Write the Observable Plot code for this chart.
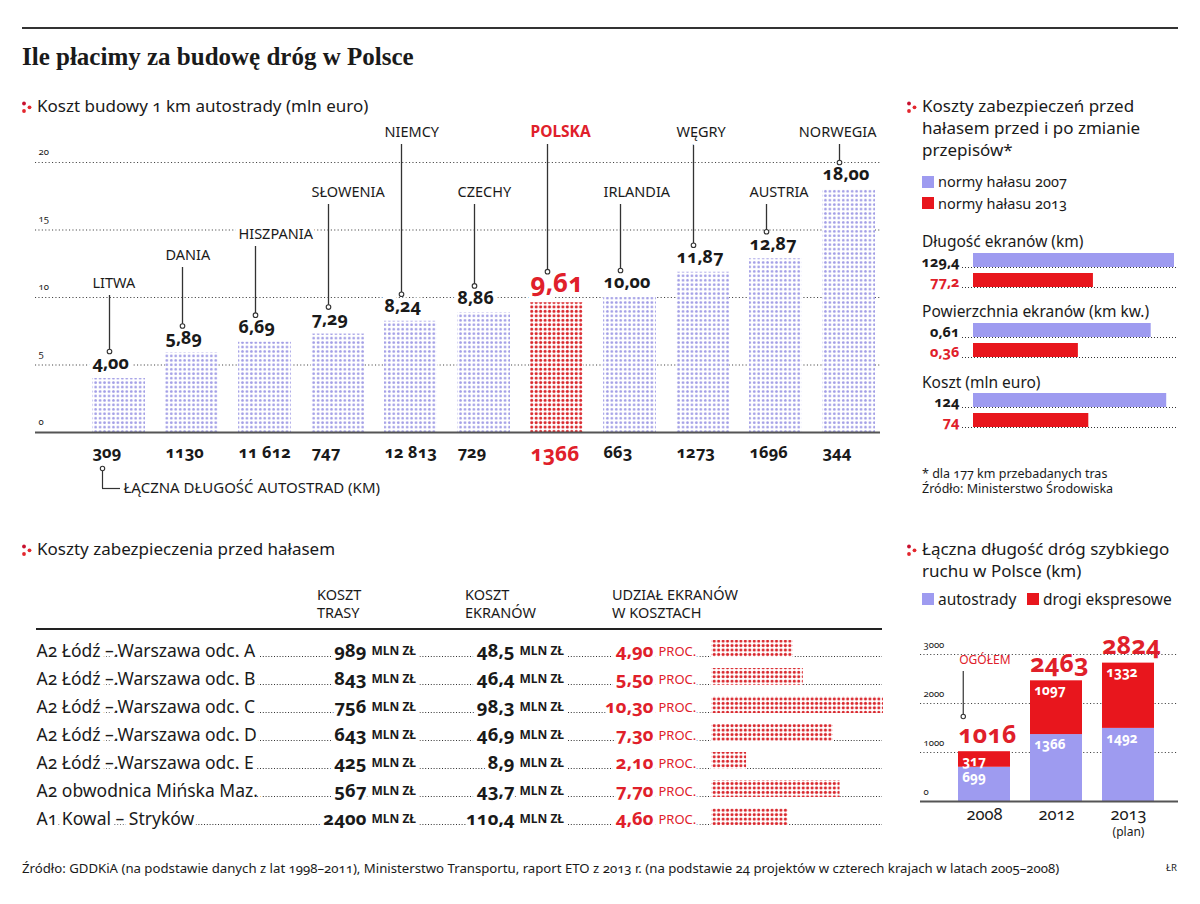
<!DOCTYPE html>
<html><head><meta charset="utf-8">
<script src="https://cdn.jsdelivr.net/npm/d3@7"></script>
<script src="https://cdn.jsdelivr.net/npm/@observablehq/plot@0.6"></script>
<style>
html,body{margin:0;padding:0;background:#fff;}
#page{position:relative;width:1200px;height:904px;overflow:hidden;font-family:"Noto Sans","Open Sans",sans-serif;color:#1a1a1a;font-variant-numeric:oldstyle-nums;}
#page svg text{font-variant-numeric:oldstyle-nums;}
</style></head>
<body><div id="page"></div>
<script>
// ---------------- DATA ----------------
const countries = ["LITWA","DANIA","HISZPANIA","SŁOWENIA","NIEMCY","CZECHY","POLSKA","IRLANDIA","WĘGRY","AUSTRIA","NORWEGIA"];
const costPerKm = [4.00,5.89,6.69,7.29,8.24,8.86,9.61,10.00,11.87,12.87,18.00];
const motorwayLength = [309,1130,11612,747,12813,729,1366,663,1273,1696,344];
const costTicks = [0,5,10,15,20];

const noiseGroups = ["Długość ekranów (km)","Powierzchnia ekranów (km kw.)","Koszt (mln euro)"];
const noiseNorms = ["normy hałasu 2007","normy hałasu 2013"];
const noise2007 = [129.4,0.61,124];
const noise2013 = [77.2,0.36,74];

const sections = ["A2 Łódź –.Warszawa odc. A","A2 Łódź –.Warszawa odc. B","A2 Łódź –.Warszawa odc. C","A2 Łódź –.Warszawa odc. D","A2 Łódź –.Warszawa odc. E","A2 obwodnica Mińska Maz.","A1 Kowal – Stryków"];
const routeCost = [989,843,756,643,425,567,2400];
const screenCost = [48.5,46.4,98.3,46.9,8.9,43.7,110.4];
const screenShare = [4.90,5.50,10.30,7.30,2.10,7.70,4.60];

const years = ["2008","2012","2013"];
const roadTypes = ["autostrady","drogi ekspresowe"];
const motorways = [699,1366,1492];
const expressways = [317,1097,1332];
const totals = [1016,2463,2824];
const roadTicks = [0,1000,2000,3000];

// ---------------- STYLE / LAYOUT ----------------
const LAV = "#9e9bf0", RED = "#e8161d", TXTRED = "#e0202a", INK = "#1a1a1a";
const FONT = "'Noto Sans','Open Sans',sans-serif";
const page = document.getElementById("page");

page.insertAdjacentHTML("beforeend", `<svg width="0" height="0" style="position:absolute;left:0;top:0"><defs>
<pattern id="dotBlue" patternUnits="userSpaceOnUse" width="4.45" height="4.45"><rect width="4.45" height="4.45" fill="#fff"/><circle cx="2.2" cy="2.2" r="1.35" fill="#a29ee6"/></pattern>
<pattern id="dotRed" patternUnits="userSpaceOnUse" width="4.45" height="4.45"><rect width="4.45" height="4.45" fill="#fff"/><circle cx="2.2" cy="2.2" r="1.55" fill="#d9262c"/></pattern>
</defs></svg>`);

function place(el, left, top){ el.style.position="absolute"; el.style.left=left+"px"; el.style.top=top+"px"; page.appendChild(el); return el; }
function label(txt, x, cy, o={}){
  const d=document.createElement("div");
  const size=o.size||16, lh=o.lh||Math.round(size*1.3);
  d.textContent=txt;
  Object.assign(d.style,{position:"absolute",left:x+"px",top:(cy-lh/2)+"px",fontSize:size+"px",lineHeight:lh+"px",whiteSpace:"pre",
    fontWeight:o.weight||400,color:o.color||INK,fontFamily:o.family||FONT,letterSpacing:o.ls||"normal"});
  if(o.transform){d.style.transform=o.transform;d.style.transformOrigin="left center";}
  page.appendChild(d); return d;
}
function icon(x,y){ page.insertAdjacentHTML("beforeend",`<svg style="position:absolute;left:${x}px;top:${y}px" width="12" height="14"><circle cx="3" cy="2.5" r="1.9" fill="#c8102e"/><circle cx="3" cy="10" r="1.9" fill="#e3262d"/><circle cx="8.5" cy="6.3" r="1.9" fill="#e3262d"/></svg>`); }
function section(txt,x,cy){ icon(x-16,cy-5); label(txt,x,cy,{size:17,lh:22}); }
function square(x,y,c){ const d=document.createElement("div"); Object.assign(d.style,{position:"absolute",left:x+"px",top:y+"px",width:"12px",height:"12px",background:c}); page.appendChild(d); }
const plotStyle = {fontFamily:FONT, background:"none", overflow:"visible", color:INK};

const fmt2 = v => v.toFixed(2).replace(".",",");
const fmtLen = v => v>=10000 ? String(v).replace(/\B(?=(\d{3})+(?!\d))/g," ") : String(v);
const fmtDec = v => String(v).replace(".",",");

// ---------------- HEADER ----------------
{ const r=document.createElement("div"); Object.assign(r.style,{position:"absolute",left:"22px",top:"27px",width:"1156px",height:"1.5px",background:"#333"}); page.appendChild(r); }
label("Ile płacimy za budowę dróg w Polsce",22,57,{size:25,lh:30,weight:700,family:"'Liberation Serif','DejaVu Serif',serif"});

// ---------------- MAIN CHART ----------------
section("Koszt budowy 1 km autostrady (mln euro)",37,106);
const mainTop = 100, unitPx = 13.5, baseY = 432;              // y scale: 0 -> 432, 20 -> 162 (page px)
const pv = py => (baseY - py)/unitPx;                            // page px -> value units
const labelTierPx = [283,255,234,192,132,192,132,192,132,192,132]; // country-name label rows (layout)
const mainRows = countries.map((c,i)=>({country:c,cost:costPerKm[i],length:motorwayLength[i],tier:labelTierPx[i]}));
const isPL = d => d.country==="POLSKA";
const others = mainRows.filter(d=>!isPL(d)), pl = mainRows.filter(isPL);
const halo = {stroke:"white",strokeWidth:9,paintOrder:"stroke"};
const hb = -26.5; // half bar width in px: left edge of band from center

const mainPlot = Plot.plot({
  width:900, height:400, marginLeft:35, marginRight:20, marginTop:0, marginBottom:0,
  x:{type:"band",domain:countries,range:[68.5,897.5],padding:0.279,axis:null},
  y:{domain:[0,20],range:[baseY-mainTop,baseY-mainTop-20*unitPx],axis:null},
  style:plotStyle,
  marks:[
    Plot.ruleY(costTicks.filter(d=>d>0),{stroke:"#444",strokeWidth:1.1,strokeDasharray:"1.1,2.3"}),
    Plot.text(costTicks,{y:d=>d,text:d=>String(d),frameAnchor:"left",textAnchor:"start",dx:3,dy:-11,fontSize:9.5,fill:"#222"}),
    Plot.barY(others,{x:"country",y:"cost",fill:"url(#dotBlue)"}),
    Plot.barY(pl,{x:"country",y:"cost",fill:"url(#dotRed)"}),
    Plot.ruleY([0],{stroke:"#555",strokeWidth:2}),
    Plot.text(others,{x:"country",y:d=>d.cost+1.1,text:d=>fmt2(d.cost),dx:hb,textAnchor:"start",fontWeight:"bold",fontSize:18,fill:INK,...halo}),
    Plot.text(pl,{x:"country",y:d=>d.cost+1.45,text:d=>fmt2(d.cost),dx:hb,textAnchor:"start",fontWeight:"bold",fontSize:26,fill:TXTRED,...halo}),
    Plot.ruleX(mainRows,{x:"country",y1:d=>pv(d.tier+12),y2:d=>d.cost+(isPL(d)?2.3:2.0),dx:hb+17,stroke:"#333",strokeWidth:1.3}),
    Plot.dot(mainRows,{x:"country",y:d=>d.cost+(isPL(d)?2.3:2.0),dx:hb+17,r:2.3,fill:"white",stroke:"#333",strokeWidth:1.1}),
    Plot.text(mainRows.filter(d=>!isPL(d)&&d.country!=="NORWEGIA"),{x:"country",y:d=>pv(d.tier),text:"country",dx:hb,textAnchor:"start",fontSize:14.5,fill:INK,...halo}),
    Plot.text(mainRows.filter(d=>d.country==="NORWEGIA"),{x:"country",y:d=>pv(d.tier),text:"country",dx:-hb+1,textAnchor:"end",fontSize:14.5,fill:INK,...halo}),
    Plot.text(pl,{x:"country",y:d=>pv(d.tier),text:"country",dx:hb,textAnchor:"start",fontSize:15.5,fontWeight:"bold",fill:TXTRED,...halo}),
    Plot.text(others,{x:"country",y:pv(452),text:d=>fmtLen(d.length),dx:hb,textAnchor:"start",fontSize:16.5,fontWeight:"bold",fill:INK}),
    Plot.text(pl,{x:"country",y:pv(454),text:d=>fmtLen(d.length),dx:hb,textAnchor:"start",fontSize:21,fontWeight:"bold",fill:TXTRED}),
    // annotation for the length row
    Plot.ruleX([countries[0]],{x:d=>d,y1:pv(468),y2:pv(488),dx:hb+10,stroke:"#333",strokeWidth:1.2}),
    Plot.tickY([countries[0]],{x:d=>d,y:pv(488),insetLeft:10,insetRight:25,stroke:"#333",strokeWidth:1.2}),
    Plot.dot([countries[0]],{x:d=>d,y:pv(468),dx:hb+10,r:2.2,fill:"white",stroke:"#333",strokeWidth:1.1}),
    Plot.text([countries[0]],{x:d=>d,y:pv(488),text:()=>"ŁĄCZNA DŁUGOŚĆ AUTOSTRAD (KM)",dx:hb+31,textAnchor:"start",fontSize:15,fill:INK})
  ]
});
place(mainPlot,0,mainTop);

// ---------------- NOISE PANEL (top right) ----------------
section("Koszty zabezpieczeń przed\nhałasem przed i po zmianie\nprzepisów*",922,106);
square(922,176,LAV); label(noiseNorms[0],938,181,{size:14.5,lh:18});
square(922,197,RED); label(noiseNorms[1],938,203,{size:14.5,lh:18});
const groupTitleY=[241,311,382], groupTop=[248,318,388], noiseScaleMax=[129.4,0.69,129];
noiseGroups.forEach((g,gi)=>{
  label(g,922,groupTitleY[gi],{size:15.5,lh:17});
  const rows=[{norm:noiseNorms[0],value:noise2007[gi]},{norm:noiseNorms[1],value:noise2013[gi]}];
  const p=Plot.plot({
    width:290,height:45,marginLeft:62,marginRight:14,marginTop:0,marginBottom:0,
    x:{domain:[0,noiseScaleMax[gi]],range:[73,274],axis:null},
    y:{type:"band",domain:noiseNorms,range:[0,45],paddingInner:0.293,paddingOuter:0.244,axis:null},
    color:{domain:noiseNorms,range:[LAV,RED]},
    style:plotStyle,
    marks:[
      Plot.ruleY(noiseNorms,{y:d=>d,dy:7,stroke:"#333",strokeWidth:1,strokeDasharray:"1,2"}),
      Plot.barX(rows,{x:"value",y:"norm",fill:"norm"}),
      Plot.text(rows.slice(0,1),{x:0,y:"norm",text:d=>fmtDec(d.value),textAnchor:"end",dx:-14,dy:2,fontWeight:"bold",fontSize:14.5,fill:INK}),
      Plot.text(rows.slice(1),{x:0,y:"norm",text:d=>fmtDec(d.value),textAnchor:"end",dx:-14,dy:2,fontWeight:"bold",fontSize:14.5,fill:TXTRED})
    ]
  });
  place(p,900,groupTop[gi]);
});
label("* dla 177 km przebadanych tras",922,473,{size:12.5,lh:15});
label("Źródło: Ministerstwo Środowiska",922,488,{size:12.5,lh:15});

// ---------------- TABLE (bottom left) ----------------
section("Koszty zabezpieczenia przed hałasem",37,549);
label("KOSZT\nTRASY",317,594,{size:14.5,lh:18});
label("KOSZT\nEKRANÓW",465,594,{size:14.5,lh:18});
label("UDZIAŁ EKRANÓW\nW KOSZTACH",612,594,{size:14.5,lh:18});
{ const r=document.createElement("div"); Object.assign(r.style,{position:"absolute",left:"36px",top:"628px",width:"846px",height:"1.5px",background:"#222"}); page.appendChild(r); }
const tRows = sections.map((s,i)=>({section:s,route:routeCost[i],screen:screenCost[i],share:screenShare[i]}));
const tHalo = {stroke:"white",strokeWidth:8,paintOrder:"stroke"};
const tablePlot = Plot.plot({
  width:900,height:212,marginLeft:36,marginRight:18,marginTop:0,marginBottom:0,
  x:{domain:[0,10.3],range:[711,883],axis:null},
  y:{type:"band",domain:sections,range:[7,203],padding:0,axis:null},
  style:plotStyle,
  marks:[
    Plot.ruleY(sections,{y:d=>d,dy:5,stroke:"#333",strokeWidth:1,strokeDasharray:"1,1.8"}),
    Plot.barX(tRows,{x:"share",y:"section",fill:"url(#dotRed)",insetTop:3,insetBottom:8}),
    Plot.text(tRows,{y:"section",text:"section",frameAnchor:"left",textAnchor:"start",fontSize:17.5,fill:INK,...tHalo}),
    Plot.text(tRows,{y:"section",text:d=>String(d.route),frameAnchor:"left",dx:330,textAnchor:"end",fontSize:18.5,fontWeight:"bold",fill:INK,...tHalo}),
    Plot.text(tRows,{y:"section",text:()=>"MLN ZŁ",frameAnchor:"left",dx:335,textAnchor:"start",fontSize:12,fontWeight:"bold",fill:INK,...tHalo}),
    Plot.text(tRows,{y:"section",text:d=>fmtDec(d.screen),frameAnchor:"left",dx:478,textAnchor:"end",fontSize:18.5,fontWeight:"bold",fill:INK,...tHalo}),
    Plot.text(tRows,{y:"section",text:()=>"MLN ZŁ",frameAnchor:"left",dx:483,textAnchor:"start",fontSize:12,fontWeight:"bold",fill:INK,...tHalo}),
    Plot.text(tRows,{y:"section",text:d=>fmt2(d.share),frameAnchor:"left",dx:617,textAnchor:"end",fontSize:18.5,fontWeight:"bold",fill:TXTRED,...tHalo}),
    Plot.text(tRows,{y:"section",text:()=>"PROC.",frameAnchor:"left",dx:622,textAnchor:"start",fontSize:13,fill:TXTRED,...tHalo})
  ]
});
place(tablePlot,0,630);

// ---------------- ROAD LENGTH (bottom right) ----------------
section("Łączna długość dróg szybkiego\nruchu w Polsce (km)",922,549);
square(922,593,LAV); label(roadTypes[0],938,599,{size:15.5,lh:20});
square(1027,593,RED); label(roadTypes[1],1043,599,{size:15.5,lh:20});
const roadRows = [
  ...years.map((y,i)=>({year:y,type:roadTypes[0],value:motorways[i]})),
  ...years.map((y,i)=>({year:y,type:roadTypes[1],value:expressways[i]}))
];
const totalRows = years.map((y,i)=>({year:y,total:totals[i]}));
const rTop=620, rBase=801, rPx=0.049;
const rv = py => (rBase-py)/rPx;
const hb2 = -26.25;
const roadPlot = Plot.plot({
  width:290,height:230,marginLeft:20,marginRight:12,marginTop:0,marginBottom:0,
  x:{type:"band",domain:years,range:[36.6,276],padding:0.28,axis:null},
  y:{domain:[0,3000],range:[rBase-rTop,rBase-rTop-3000*rPx],axis:null},
  color:{domain:roadTypes,range:[LAV,RED]},
  style:plotStyle,
  marks:[
    Plot.ruleY(roadTicks.filter(d=>d>0),{stroke:"#444",strokeWidth:1.1,strokeDasharray:"1.1,2.3"}),
    Plot.text(roadTicks,{y:d=>d,text:d=>String(d),frameAnchor:"left",textAnchor:"start",dx:3,dy:-10,fontSize:9.5,fill:"#222"}),
    Plot.barY(roadRows,{x:"year",y:"value",fill:"type"}),
    Plot.ruleY([0],{stroke:"#555",strokeWidth:2}),
    Plot.text(roadRows,Plot.stackY2({x:"year",y:"value",z:"type",text:d=>String(d.value),dx:hb2+4,dy:10,textAnchor:"start",fontSize:13.5,fontWeight:"bold",fill:"white"})),
    Plot.text(totalRows,{x:"year",y:"total",text:d=>String(d.total),dx:hb2,dy:-17,textAnchor:"start",fontSize:25,fontWeight:"bold",fill:TXTRED}),
    Plot.text([years[0]],{x:d=>d,y:rv(660),text:()=>"OGÓŁEM",dx:hb2+1,textAnchor:"start",fontSize:12,fill:TXTRED}),
    Plot.ruleX([years[0]],{x:d=>d,y1:rv(671),y2:rv(716),dx:hb2+5,stroke:"#333",strokeWidth:1.2}),
    Plot.dot([years[0]],{x:d=>d,y:rv(716),dx:hb2+5,r:2.2,fill:"white",stroke:"#333",strokeWidth:1.1}),
    Plot.text(years,{x:d=>d,y:rv(814),text:d=>d,fontSize:16.5,fill:INK}),
    Plot.text([years[2]],{x:d=>d,y:rv(832),text:()=>"(plan)",fontSize:12,fill:INK})
  ]
});
place(roadPlot,900,rTop);

// ---------------- FOOTER ----------------
label("Źródło: GDDKiA (na podstawie danych z lat 1998–2011), Ministerstwo Transportu, raport ETO z 2013 r. (na podstawie 24 projektów w czterech krajach w latach 2005–2008)",22,868,{size:13.2,lh:16});
label("ŁR",1166,868,{size:9.5,lh:12});
</script>
</body></html>
